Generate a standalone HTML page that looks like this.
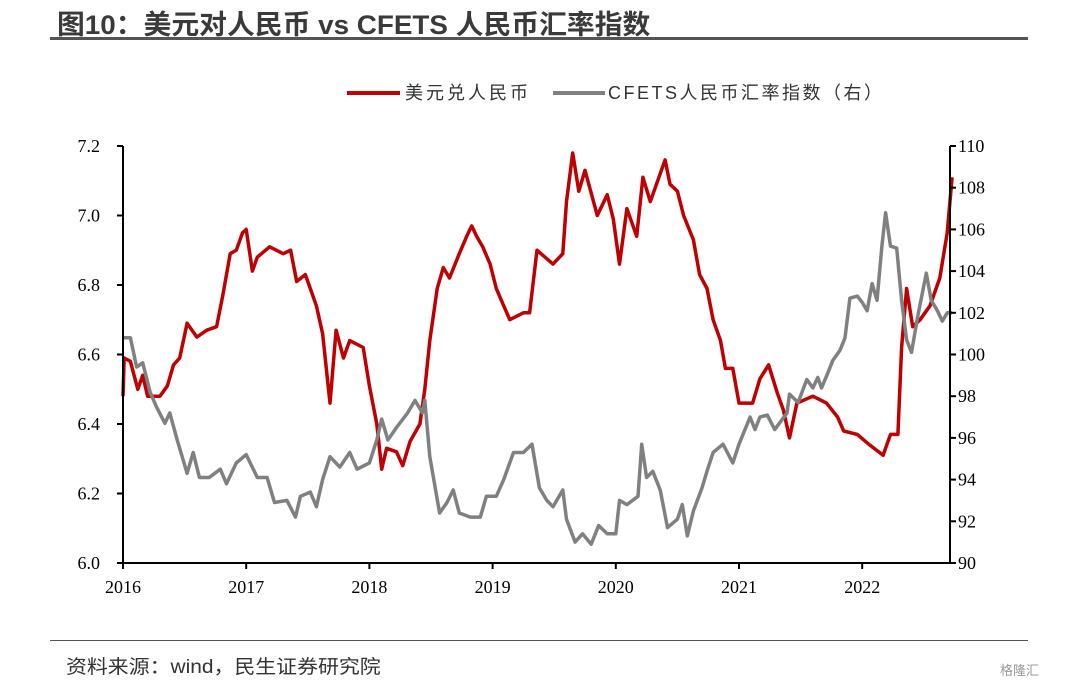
<!DOCTYPE html>
<html><head><meta charset="utf-8">
<style>
body{margin:0;background:#fff;width:1080px;height:690px;overflow:hidden;position:relative;font-family:"Liberation Sans","Noto Sans CJK SC",sans-serif;}
#title{position:absolute;left:57px;top:3px;font-size:27px;font-weight:bold;color:#3a3a3a;white-space:nowrap;transform-origin:0 0;transform:scaleX(1.03);}
#tline{position:absolute;left:50px;top:37px;width:978px;height:3px;background:#555;}
#bline{position:absolute;left:50px;top:640px;width:978px;height:1px;background:#555;}
#src{position:absolute;left:66px;top:652px;font-size:19px;color:#333;transform-origin:0 0;transform:scaleX(1.1);white-space:nowrap;}
#wm{position:absolute;left:1000px;top:660px;font-size:13px;color:#999;}
</style></head><body>
<div id="title">图10：美元对人民币 vs CFETS 人民币汇率指数</div>
<div id="tline"></div>
<svg id="chart" width="1080" height="690" style="position:absolute;left:0;top:0"></svg>
<div id="bline"></div>
<div id="src">资料来源：wind，民生证券研究院</div>
<div id="wm">格隆汇</div>
<script>
const xTicks=[2016,2017,2018,2019,2020,2021,2022];
const leftTicks=["6.0","6.2","6.4","6.6","6.8","7.0","7.2"];
const rightTicks=["90","92","94","96","98","100","102","104","106","108","110"];
const usdT=[2016.0,2016.01,2016.06,2016.12,2016.16,2016.2,2016.3,2016.36,2016.41,2016.46,2016.52,2016.6,2016.68,2016.76,2016.81,2016.87,2016.92,2016.97,2017.0,2017.05,2017.09,2017.19,2017.3,2017.36,2017.41,2017.48,2017.52,2017.57,2017.62,2017.68,2017.73,2017.79,2017.84,2017.95,2018.0,2018.06,2018.1,2018.14,2018.22,2018.27,2018.33,2018.41,2018.45,2018.49,2018.55,2018.6,2018.65,2018.73,2018.79,2018.83,2018.87,2018.92,2018.98,2019.03,2019.09,2019.14,2019.25,2019.3,2019.36,2019.49,2019.57,2019.6,2019.65,2019.7,2019.75,2019.85,2019.93,2019.98,2020.03,2020.09,2020.17,2020.22,2020.28,2020.33,2020.4,2020.44,2020.5,2020.55,2020.63,2020.68,2020.74,2020.79,2020.85,2020.89,2020.95,2021.0,2021.11,2021.17,2021.24,2021.31,2021.36,2021.41,2021.47,2021.6,2021.71,2021.8,2021.85,2021.96,2022.06,2022.17,2022.23,2022.29,2022.32,2022.36,2022.41,2022.47,2022.55,2022.63,2022.69,2022.73];
const usdV=[6.48,6.59,6.58,6.50,6.54,6.48,6.48,6.51,6.57,6.59,6.69,6.65,6.67,6.68,6.77,6.89,6.90,6.95,6.96,6.84,6.88,6.91,6.89,6.90,6.81,6.83,6.79,6.74,6.66,6.46,6.67,6.59,6.64,6.62,6.51,6.40,6.27,6.33,6.32,6.28,6.35,6.40,6.50,6.64,6.79,6.85,6.82,6.89,6.94,6.97,6.94,6.91,6.86,6.79,6.74,6.70,6.72,6.72,6.90,6.86,6.89,7.04,7.18,7.07,7.13,7.00,7.06,6.99,6.86,7.02,6.94,7.11,7.04,7.09,7.16,7.09,7.07,7.00,6.93,6.83,6.79,6.70,6.64,6.56,6.56,6.46,6.46,6.53,6.57,6.49,6.44,6.36,6.46,6.48,6.46,6.42,6.38,6.37,6.34,6.31,6.37,6.37,6.62,6.79,6.68,6.70,6.74,6.82,6.95,7.11];
const cfT=[2016.0,2016.06,2016.11,2016.16,2016.22,2016.27,2016.34,2016.38,2016.44,2016.52,2016.57,2016.62,2016.7,2016.79,2016.84,2016.92,2017.0,2017.09,2017.17,2017.23,2017.33,2017.4,2017.44,2017.52,2017.57,2017.62,2017.68,2017.76,2017.84,2017.9,2018.0,2018.06,2018.1,2018.15,2018.22,2018.31,2018.37,2018.43,2018.45,2018.49,2018.57,2018.63,2018.68,2018.73,2018.82,2018.9,2018.95,2019.03,2019.09,2019.17,2019.25,2019.32,2019.38,2019.44,2019.49,2019.57,2019.6,2019.67,2019.73,2019.8,2019.86,2019.93,2020.0,2020.03,2020.09,2020.18,2020.21,2020.25,2020.3,2020.36,2020.42,2020.5,2020.54,2020.58,2020.63,2020.7,2020.74,2020.79,2020.87,2020.95,2021.0,2021.09,2021.13,2021.17,2021.23,2021.29,2021.39,2021.41,2021.48,2021.55,2021.6,2021.64,2021.67,2021.72,2021.76,2021.82,2021.86,2021.9,2021.96,2022.0,2022.04,2022.08,2022.12,2022.16,2022.19,2022.23,2022.28,2022.32,2022.36,2022.4,2022.45,2022.52,2022.56,2022.61,2022.65,2022.69,2022.73];
const cfV=[100.8,100.8,99.4,99.6,98.2,97.5,96.7,97.2,95.9,94.3,95.3,94.1,94.1,94.5,93.8,94.8,95.2,94.1,94.1,92.9,93.0,92.2,93.2,93.4,92.7,94.0,95.1,94.6,95.3,94.5,94.8,95.9,96.9,95.9,96.5,97.2,97.8,97.2,97.8,95.1,92.4,92.9,93.5,92.4,92.2,92.2,93.2,93.2,94.0,95.3,95.3,95.7,93.6,93.0,92.7,93.5,92.1,91.0,91.4,90.9,91.8,91.4,91.4,93.0,92.8,93.2,95.7,94.1,94.4,93.5,91.7,92.1,92.8,91.3,92.5,93.6,94.4,95.3,95.7,94.8,95.7,97.0,96.4,97.0,97.1,96.4,97.2,98.1,97.7,98.8,98.4,98.9,98.4,99.1,99.7,100.2,100.8,102.7,102.8,102.5,102.1,103.4,102.6,105.2,106.8,105.2,105.1,102.6,100.7,100.1,101.8,103.9,102.6,102.1,101.6,102.0,102.0];

const X0=123,X1=950,Y0=563,Y1=146;
const xS=t=>X0+(t-2016)*123.2;
const yL=v=>Y0-(v-6.0)/1.2*(Y0-Y1);
const yR=v=>Y0-(v-90)/20*(Y0-Y1);
const svg=document.getElementById('chart');
const NS='http://www.w3.org/2000/svg';
function mk(tag,at,txt){const e=document.createElementNS(NS,tag);for(const k in at)e.setAttribute(k,at[k]);if(txt!==undefined)e.textContent=txt;svg.appendChild(e);return e;}
const FS='font-family:"Liberation Serif",serif;font-size:18px;fill:#000';

let d='';usdT.forEach((t,i)=>{d+=(i?'L':'M')+xS(t).toFixed(1)+' '+yL(usdV[i]).toFixed(1);});
let p1=mk('path',{d:d,fill:'none',stroke:'#c00000','stroke-width':3.5,'stroke-linejoin':'round'});


d='';cfT.forEach((t,i)=>{d+=(i?'L':'M')+xS(t).toFixed(1)+' '+yR(cfV[i]).toFixed(1);});
let p2=mk('path',{d:d,fill:'none',stroke:'#808080','stroke-width':3.5,'stroke-linejoin':'round'});



let a=mk('path',{d:`M${X0} ${Y1}V${Y0}H${X1}V${Y1}`,fill:'none',stroke:'#000','stroke-width':2});


leftTicks.forEach(s=>{const y=yL(parseFloat(s));mk('line',{x1:X0-6,x2:X0,y1:y,y2:y,stroke:'#000','stroke-width':2});
 let t=mk('text',{x:100,y:y+6,'text-anchor':'end',style:FS},s);
 
 });
rightTicks.forEach(s=>{const y=yR(parseFloat(s));mk('line',{x1:X1,x2:X1+6,y1:y,y2:y,stroke:'#000','stroke-width':2});
 let t=mk('text',{x:958,y:y+6,'text-anchor':'start',style:FS},s);
 
 });
xTicks.forEach(v=>{const x=xS(v);mk('line',{x1:x,x2:x,y1:Y0,y2:Y0+6,stroke:'#000','stroke-width':2});
 let t=mk('text',{x:x,y:Y0+30,'text-anchor':'middle',style:FS},String(v));
 
 });

let l1=mk('line',{x1:347,x2:400,y1:93,y2:93,stroke:'#c00000','stroke-width':4});


let t1=mk('text',{x:405,y:99,style:'font-family:"Liberation Sans","Noto Sans CJK SC",sans-serif;font-size:18px;fill:#333;letter-spacing:3px'},'美元兑人民币');


let l2=mk('line',{x1:553,x2:605,y1:93,y2:93,stroke:'#808080','stroke-width':4});


let t2=mk('text',{x:608,y:99,style:'font-family:"Liberation Sans","Noto Sans CJK SC",sans-serif;font-size:18px;fill:#333;letter-spacing:2.5px'},'CFETS人民币汇率指数（右）');


</script>
</body></html>
